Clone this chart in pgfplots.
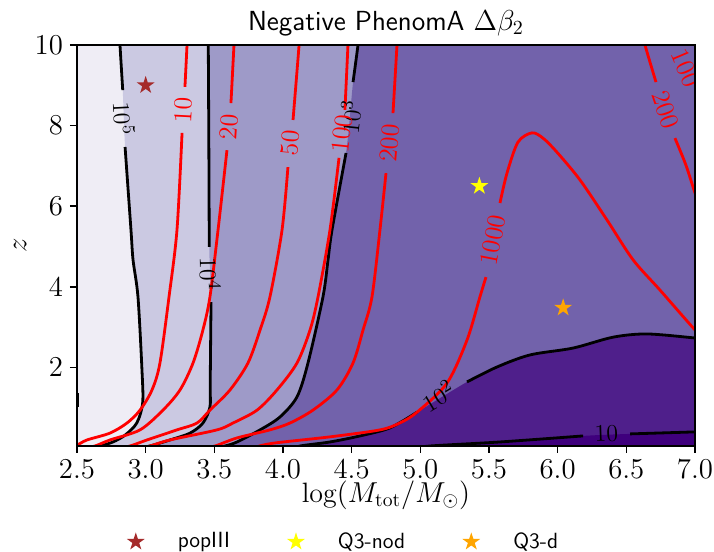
\documentclass[border=0pt]{standalone}
\usepackage{fontspec}
\usepackage{pgfplots}
\pgfplotsset{compat=1.18}
\definecolor{c0}{HTML}{EFEDF5}
\definecolor{c1}{HTML}{CBC9E2}
\definecolor{c2}{HTML}{9E9AC8}
\definecolor{c3}{HTML}{7262AB}
\definecolor{c4}{HTML}{4F1F8B}
\definecolor{c5}{HTML}{3F007D}
\definecolor{popc}{HTML}{A52A2A}
\definecolor{ornc}{HTML}{FFA500}
\definecolor{yelc}{HTML}{FFFF00}
\pgfdeclareplotmark{fstar}{%
  \pgfpathmoveto{\pgfpointpolar{90}{\pgfplotmarksize}}%
  \pgfpathlineto{\pgfpointpolar{126}{0.382\pgfplotmarksize}}%
  \pgfpathlineto{\pgfpointpolar{162}{\pgfplotmarksize}}%
  \pgfpathlineto{\pgfpointpolar{198}{0.382\pgfplotmarksize}}%
  \pgfpathlineto{\pgfpointpolar{234}{\pgfplotmarksize}}%
  \pgfpathlineto{\pgfpointpolar{270}{0.382\pgfplotmarksize}}%
  \pgfpathlineto{\pgfpointpolar{306}{\pgfplotmarksize}}%
  \pgfpathlineto{\pgfpointpolar{342}{0.382\pgfplotmarksize}}%
  \pgfpathlineto{\pgfpointpolar{18}{\pgfplotmarksize}}%
  \pgfpathlineto{\pgfpointpolar{54}{0.382\pgfplotmarksize}}%
  \pgfpathclose
  \pgfusepathqfill}
\pgfplotsset{
  starleg/.style={only marks, mark=fstar, mark size=4.7pt,
    legend image code/.code={\path[draw=none,fill=none] (-5pt,0pt) -- (19pt,0pt); \draw[##1,/tikz/only marks] plot coordinates {(0pt,0pt)};}},
  bl/.style={black, line width=1.4pt, smooth, tension=0.5, forget plot},
  rl/.style={red, line width=1.4pt, smooth, tension=0.5, forget plot},
  fl/.style={draw=none, smooth, tension=0.5, forget plot},
}
\newcommand{\clab}{\fontsize{13}{15}\selectfont}
\begin{document}
\begin{tikzpicture}
\begin{axis}[
  at={(0pt,0pt)}, anchor=south west, scale only axis,
  width=309pt, height=200.5pt,
  xmin=2.5, xmax=7, ymin=0.05, ymax=10,
  axis on top,
  xtick={2.5,3.0,3.5,4.0,4.5,5.0,5.5,6.0,6.5,7.0},
  ytick={2,4,6,8,10},
  xticklabel style={/pgf/number format/.cd, fixed, fixed zerofill, precision=1},
  tick label style={font=\fontsize{14}{16}\selectfont},
  label style={font=\fontsize{14}{16}\selectfont},
  tick align=outside, xtick pos=bottom, ytick pos=left,
  major tick length=3.5pt,
  tick style={black, line width=0.8pt},
  axis line style={line width=0.8pt},
  axis background/.style={fill=c0},
  xlabel={$\log(M_{\rm tot}/M_\odot)$},
  ylabel={$z$},
  xlabel style={at={(axis description cs:0.5,-0.122)}, anchor=center},
  ylabel style={at={(axis description cs:-0.092,0.5)}, anchor=center},
  title={\sffamily Negative PhenomA $\Delta\beta_2$},
  title style={font=\fontsize{13.8}{16}\selectfont, at={(axis description cs:0.5,1)}, anchor=base, yshift=1.5pt},
  legend style={at={(axis description cs:0.432,-0.239)}, anchor=center, draw=none, fill=none,
    legend columns=3, font=\fontsize{11}{13}\selectfont\sffamily,
    /tikz/every even column/.append style={column sep=26pt}},
]
% filled regions
\addplot[fl, fill=c1] coordinates {(2.81,10.3) (2.813,10) (2.833,8.88) (2.850,7.47) (2.893,5.41) (2.908,4.67) (2.944,3.75) (2.973,1.94) (2.978,1.12) (2.935,0.62) (2.850,0.32) (2.762,0.15) (2.667,0.05) (2.58,0.0)} -- (axis cs:7.5,-0.5) -- (axis cs:7.5,10.5) -- cycle;
\addplot[fl, fill=c2] coordinates {(3.455,10.3) (3.456,10) (3.46,7.5) (3.463,4.99) (3.476,3.62) (3.470,1.6) (3.468,1.02) (3.417,0.62) (3.323,0.37) (3.177,0.2) (3.03,0.05) (2.95,0.0)} -- (axis cs:7.5,-0.5) -- (axis cs:7.5,10.5) -- cycle;
\addplot[fl, fill=c3] coordinates {(4.552,10.3) (4.546,10) (4.510,9.08) (4.459,7.32) (4.357,5.41) (4.328,4.67) (4.291,3.75) (4.182,2.11) (4.102,1.27) (3.978,0.77) (3.833,0.45) (3.665,0.15) (3.578,0.05) (3.5,0.0)} -- (axis cs:7.5,-0.5) -- (axis cs:7.5,10.5) -- cycle;
\addplot[fl, fill=c4] coordinates {(4.05,-0.05) (4.124,0.05) (4.342,0.15) (4.561,0.30) (4.779,0.50) (4.976,0.89) (5.340,1.64) (5.558,2.01) (5.799,2.31) (6.112,2.48) (6.403,2.75) (6.651,2.83) (7.0,2.73) (7.1,2.69)} -- (axis cs:7.5,-0.5) -- (axis cs:4.0,-0.5) -- cycle;
\addplot[fl, fill=c5] coordinates {(4.95,-0.02) (5.070,0.05) (5.580,0.15) (6.185,0.30) (6.527,0.35) (7.0,0.40) (7.1,0.41)} -- (axis cs:7.5,-0.5) -- (axis cs:4.9,-0.5) -- cycle;
% black contours
\addplot[bl] coordinates {(2.81,10.3) (2.813,10) (2.833,8.88)};
\addplot[bl] coordinates {(2.850,7.47) (2.893,5.41) (2.908,4.67) (2.944,3.75) (2.973,1.94) (2.978,1.12) (2.935,0.62) (2.850,0.32) (2.762,0.15) (2.667,0.05) (2.58,0.0)};
\addplot[bl] coordinates {(2.505,1.02) (2.505,1.36)};
\addplot[bl] coordinates {(3.455,10.3) (3.456,10) (3.46,7.5) (3.463,4.99)};
\addplot[bl] coordinates {(3.476,3.62) (3.470,1.6) (3.468,1.02) (3.417,0.62) (3.323,0.37) (3.177,0.2) (3.03,0.05) (2.95,0.0)};
\addplot[bl] coordinates {(4.552,10.3) (4.546,10) (4.510,9.08)};
\addplot[bl] coordinates {(4.459,7.32) (4.357,5.41) (4.328,4.67) (4.291,3.75) (4.182,2.11) (4.102,1.27) (3.978,0.77) (3.833,0.45) (3.665,0.15) (3.578,0.05) (3.5,0.0)};
\addplot[bl] coordinates {(4.05,-0.05) (4.124,0.05) (4.342,0.15) (4.561,0.30) (4.779,0.50) (4.976,0.89)};
\addplot[bl] coordinates {(5.340,1.64) (5.558,2.01) (5.799,2.31) (6.112,2.48) (6.403,2.75) (6.651,2.83) (7.0,2.73) (7.1,2.69)};
\addplot[bl] coordinates {(4.95,-0.02) (5.070,0.05) (5.580,0.15) (6.185,0.30)};
\addplot[bl] coordinates {(6.527,0.35) (7.0,0.40) (7.1,0.41)};
% red contours
\addplot[rl] coordinates {(3.302,10.3) (3.301,10) (3.286,8.96)};
\addplot[rl] coordinates {(3.265,7.82) (3.228,5.41) (3.170,3.75) (3.104,2.11) (3.046,1.44) (2.959,0.94) (2.864,0.62) (2.740,0.37) (2.573,0.2) (2.5,0.07) (2.45,0.02)};
\addplot[rl] coordinates {(3.645,10.3) (3.643,10) (3.621,8.56)};
\addplot[rl] coordinates {(3.592,7.39) (3.527,5.41) (3.468,3.75) (3.417,2.93) (3.345,2.11) (3.250,1.44) (3.126,0.94) (2.959,0.45) (2.740,0.2) (2.631,0.05) (2.55,0.0)};
\addplot[rl] coordinates {(4.119,10.3) (4.117,10) (4.073,8.14)};
\addplot[rl] coordinates {(4.036,6.97) (3.993,5.41) (3.905,3.75) (3.833,2.93) (3.745,2.11) (3.614,1.44) (3.468,0.94) (3.374,0.62) (3.228,0.45) (3.010,0.2) (2.886,0.05) (2.8,0.0)};
\addplot[rl] coordinates {(4.475,10.3) (4.473,10) (4.451,8.39)};
\addplot[rl] coordinates {(4.408,7.20) (4.342,5.41) (4.255,3.75) (4.197,2.93) (4.102,2.11) (3.956,1.44) (3.811,0.94) (3.636,0.62) (3.519,0.45) (3.177,0.2) (3.031,0.05) (2.95,0.0)};
\addplot[rl] coordinates {(4.832,10.3) (4.830,10) (4.801,8.31)};
\addplot[rl] coordinates {(4.750,6.82) (4.706,5.41) (4.648,3.75) (4.583,2.93) (4.510,2.11) (4.393,1.44) (4.218,0.94) (4.051,0.62) (3.905,0.45) (3.665,0.25) (3.505,0.05) (3.42,0.0)};
\addplot[rl] coordinates {(3.80,0.02) (3.93,0.12) (4.35,0.28) (4.706,0.45) (4.85,0.62) (4.976,0.89) (5.194,1.61) (5.340,2.68) (5.434,3.75) (5.478,4.24)};
\addplot[rl] coordinates {(5.580,6.08) (5.631,6.82) (5.711,7.59) (5.813,7.82) (5.893,7.69) (5.995,7.34) (6.163,6.65) (6.359,5.66) (6.549,4.67) (6.745,3.92) (7.0,2.93) (7.1,2.6)};
\addplot[rl] coordinates {(6.62,10.3) (6.636,10) (6.716,9.08)};
\addplot[rl] coordinates {(6.854,7.69) (6.934,7.02) (7.0,6.33) (7.05,5.9)};
% contour labels
\node[rotate=-87, font=\clab] at (axis cs:2.842,8.18) {$10^{5}$};
\node[rotate=-89, font=\clab] at (axis cs:3.47,4.31) {$10^{4}$};
\node[rotate=84, font=\clab] at (axis cs:4.49,8.22) {$10^{3}$};
\node[rotate=31, font=\clab] at (axis cs:5.13,1.3) {$10^{2}$};
\node[rotate=2, font=\clab] at (axis cs:6.355,0.36) {$10$};
\node[rotate=87, font=\clab, text=red] at (axis cs:3.275,8.39) {10};
\node[rotate=86, font=\clab, text=red] at (axis cs:3.607,7.97) {20};
\node[rotate=85, font=\clab, text=red] at (axis cs:4.055,7.57) {50};
\node[rotate=84, font=\clab, text=red] at (axis cs:4.43,7.8) {100};
\node[rotate=85, font=\clab, text=red] at (axis cs:4.775,7.57) {200};
\node[rotate=79, font=\clab, text=red] at (axis cs:5.53,5.16) {1000};
\node[rotate=-71, font=\clab, text=red] at (axis cs:6.785,8.39) {200};
\node[rotate=-67, font=\clab, text=red] at (axis cs:6.93,9.43) {100};
% stars
\addplot[starleg, color=popc] coordinates {(3.0,9.0)};
\addlegendentry{popIII}
\addplot[starleg, color=yelc] coordinates {(5.43,6.5)};
\addlegendentry{Q3-nod}
\addplot[starleg, color=ornc] coordinates {(6.04,3.48)};
\addlegendentry{Q3-d}
\end{axis}
\pgfresetboundingbox
\path[use as bounding box] (-38.5pt,-53pt) rectangle (318.5pt,223pt);
\end{tikzpicture}
\end{document}
